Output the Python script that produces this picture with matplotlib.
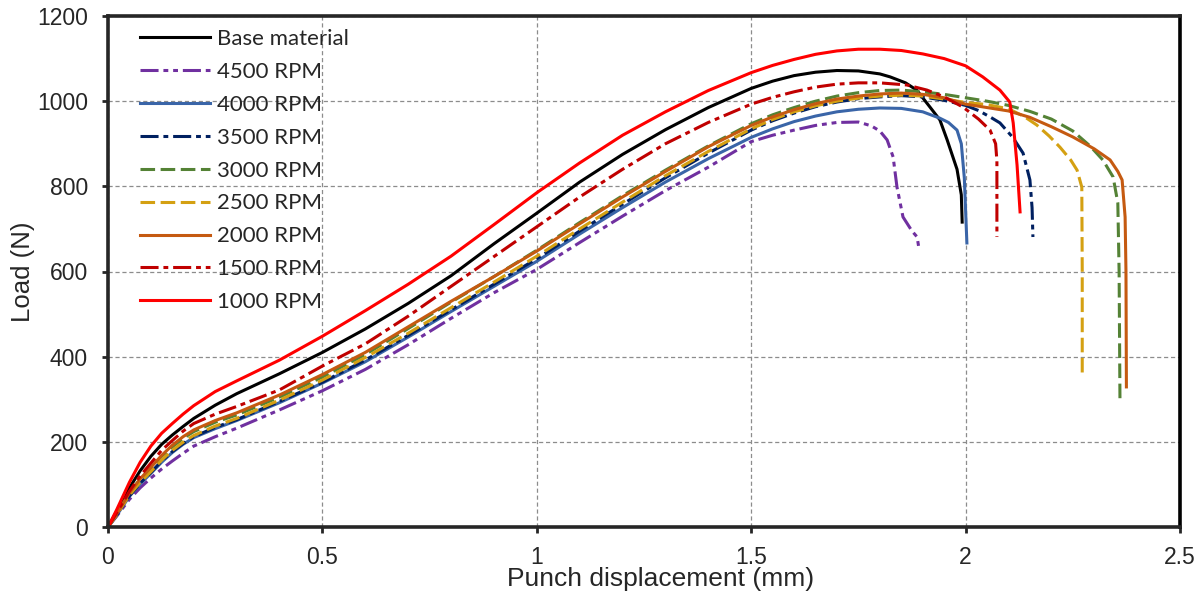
import matplotlib
matplotlib.use("Agg")
import matplotlib.pyplot as plt

# ---- data: punch displacement (mm) vs load (N) ----
rise_x = [0, 0.02, 0.05, 0.075, 0.1, 0.125, 0.15, 0.175, 0.2, 0.25, 0.3, 0.4, 0.5,
          0.6, 0.7, 0.8, 0.9, 1.0, 1.1, 1.2, 1.3, 1.4, 1.5]

base_x = rise_x + [1.55, 1.6, 1.65, 1.7, 1.75, 1.8, 1.824, 1.86, 1.886, 1.917, 1.94, 1.957, 1.98, 1.99, 1.992]
base_y = [0, 36, 92, 132, 166, 194, 216, 236, 255, 286, 313, 360, 410,
          465, 525, 590, 665, 737, 810, 875, 933, 985, 1030,
          1047, 1060, 1068, 1072, 1071, 1064, 1057, 1043, 1026, 986, 956, 909, 840, 780, 716]

rpm4500_x = rise_x + [1.55, 1.6, 1.65, 1.7, 1.75, 1.78, 1.8, 1.817, 1.831, 1.84, 1.854, 1.875, 1.887, 1.891]
rpm4500_y = [0, 25, 65, 92, 115, 136, 155, 173, 190, 212, 232, 275, 320,
             370, 428, 490, 550, 605, 668, 730, 790, 845, 905,
             920, 932, 943, 950, 951, 942, 930, 909, 869, 798, 728, 695, 681, 655]

rpm4000_x = rise_x + [1.55, 1.6, 1.65, 1.7, 1.75, 1.8, 1.85, 1.9, 1.94, 1.96, 1.98, 1.99, 1.997, 2.003]
rpm4000_y = [0, 27, 72, 101, 126, 152, 175, 194, 210, 231, 250, 292, 338,
             388, 446, 506, 565, 624, 688, 750, 810, 865, 915,
             935, 952, 965, 975, 981, 984, 983, 975, 960, 950, 932, 900, 820, 667]

rpm3500_x = rise_x + [1.55, 1.6, 1.65, 1.7, 1.75, 1.8, 1.85, 1.9, 1.95, 2.0, 2.03, 2.057, 2.08, 2.11, 2.134, 2.15, 2.155, 2.157]
rpm3500_y = [0, 28, 73, 103, 128, 155, 177, 196, 212, 234, 252, 295, 340,
             392, 450, 510, 570, 630, 695, 758, 820, 878, 932,
             954, 972, 987, 998, 1006, 1010, 1013, 1010, 1002, 990, 978, 963, 949, 915, 878, 815, 750, 681]

rpm3000_x = rise_x + [1.55, 1.6, 1.65, 1.7, 1.75, 1.8, 1.85, 1.9, 1.95, 2.0, 2.05, 2.1, 2.15, 2.2, 2.25, 2.29, 2.32, 2.344, 2.355, 2.358, 2.36]
rpm3000_y = [0, 30, 80, 112, 138, 166, 188, 208, 224, 246, 263, 305, 352,
             405, 466, 528, 588, 650, 715, 778, 838, 895, 947,
             968, 985, 1000, 1012, 1020, 1025, 1026, 1022, 1016, 1008, 1000, 990, 976, 958, 930, 895, 862, 822, 761, 600, 298]

rpm2500_x = rise_x + [1.55, 1.6, 1.65, 1.7, 1.75, 1.8, 1.85, 1.9, 1.95, 2.0, 2.05, 2.1, 2.135, 2.166, 2.195, 2.22, 2.245, 2.26, 2.271, 2.272, 2.272]
rpm2500_y = [0, 28, 75, 105, 130, 157, 180, 199, 215, 237, 255, 298, 345,
             398, 455, 515, 575, 636, 700, 763, 825, 882, 935,
             957, 975, 989, 1000, 1007, 1012, 1014, 1012, 1005, 997, 992, 982, 965, 944, 918, 892, 862, 838, 798, 600, 352]

rpm2000_x = rise_x + [1.55, 1.6, 1.65, 1.7, 1.75, 1.8, 1.85, 1.9, 1.95, 2.0, 2.05, 2.1, 2.15, 2.2, 2.25, 2.3, 2.337, 2.355, 2.365, 2.372, 2.374, 2.375]
rpm2000_y = [0, 30, 80, 113, 140, 168, 192, 212, 228, 250, 268, 310, 358,
             410, 470, 530, 588, 648, 712, 775, 835, 893, 943,
             963, 980, 994, 1005, 1012, 1017, 1019, 1016, 1008, 993, 985, 977, 962, 940, 916, 888, 862, 835, 815, 728, 600, 329]

rpm1500_x = rise_x + [1.55, 1.6, 1.65, 1.7, 1.75, 1.8, 1.863, 1.91, 1.95, 1.994, 2.03, 2.057, 2.07, 2.073, 2.073]
rpm1500_y = [0, 33, 84, 120, 150, 180, 203, 225, 243, 265, 283, 322, 378,
             430, 495, 565, 635, 705, 775, 840, 900, 950, 993,
             1009, 1022, 1033, 1040, 1043, 1043, 1038, 1026, 1010, 986, 958, 932, 900, 860, 681]

rpm1000_x = rise_x + [1.55, 1.6, 1.65, 1.7, 1.75, 1.8, 1.85, 1.9, 1.95, 2.0, 2.04, 2.08, 2.103, 2.111, 2.12, 2.127]
rpm1000_y = [0, 40, 105, 152, 190, 220, 243, 265, 285, 318, 343, 392, 448,
             508, 570, 636, 710, 785, 855, 920, 975, 1025, 1067,
             1084, 1098, 1110, 1118, 1122, 1122, 1119, 1111, 1100, 1083, 1057, 1026, 998, 949, 850, 740]

labels = ["Base material", "4500 RPM", "4000 RPM", "3500 RPM", "3000 RPM",
          "2500 RPM", "2000 RPM", "1500 RPM", "1000 RPM"]

x_ticks = [0, 0.5, 1, 1.5, 2, 2.5]
x_tick_labels = ["0", "0.5", "1", "1.5", "2", "2.5"]
y_ticks = [0, 200, 400, 600, 800, 1000, 1200]

series = [
    (base_x, base_y, "#000000", None),
    (rpm4500_x, rpm4500_y, "#7030A0", (13, 3.5, 3.5, 3.5, 3.5, 3.5)),
    (rpm4000_x, rpm4000_y, "#3A65A8", None),
    (rpm3500_x, rpm3500_y, "#002060", (13, 3.5, 3.5, 3.5)),
    (rpm3000_x, rpm3000_y, "#548235", (10.5, 4)),
    (rpm2500_x, rpm2500_y, "#D4A012", (10.5, 4)),
    (rpm2000_x, rpm2000_y, "#C55A11", None),
    (rpm1500_x, rpm1500_y, "#C00000", (13, 3.5, 3.5, 3.5)),
    (rpm1000_x, rpm1000_y, "#FF0000", None),
]

plt.rcParams["lines.scale_dashes"] = False
text_color = "#262626"

fig = plt.figure(figsize=(12.03, 5.97), dpi=100)
ax = fig.add_axes([108 / 1203, 1 - 527 / 597, (1180 - 108) / 1203, (527 - 16) / 597])

for (xs, ys, color, dash), label in zip(series, labels):
    line, = ax.plot(xs, ys, color=color, lw=2.2, label=label,
                    solid_joinstyle="round", dash_capstyle="butt")
    if dash is not None:
        line.set_dashes(dash)

ax.set_xlim(0, 2.5)
ax.set_ylim(0, 1200)
ax.set_xticks(x_ticks)
ax.set_xticklabels(x_tick_labels, fontfamily="Liberation Sans", fontsize=16.5, color=text_color)
ax.set_yticks(y_ticks)
ax.set_yticklabels([str(v) for v in y_ticks], fontfamily="Liberation Sans",
                   fontsize=16.5, color=text_color)

ax.grid(True, color="#8C8C8C", lw=0.9, linestyle=(0, (3, 2)))
ax.set_axisbelow(True)

for side in ["left", "right", "top", "bottom"]:
    ax.spines[side].set_linewidth(2.6)
    ax.spines[side].set_color(text_color)
ax.spines["right"].set_color("#000000")

ax.tick_params(axis="both", direction="out", length=4.5, width=2, color=text_color)
ax.tick_params(axis="x", pad=9)
ax.tick_params(axis="y", pad=10)

ax.set_xlabel("Punch displacement (mm)", fontfamily="Liberation Sans", fontsize=19,
              color=text_color, labelpad=-1)
ax.xaxis.label.set_x(0.515)
ax.set_ylabel("Load (N)", fontfamily="Liberation Sans", fontsize=18.5,
              color=text_color, labelpad=1.5)

leg = ax.legend(loc="upper left", frameon=False,
                prop={"family": "Lato", "size": 16},
                handlelength=3.15, handletextpad=0.3, labelspacing=0.58,
                borderaxespad=0.0, bbox_to_anchor=(0.022, 0.992))
for t in leg.get_texts():
    t.set_color(text_color)

fig.savefig("out.png", dpi=100)
